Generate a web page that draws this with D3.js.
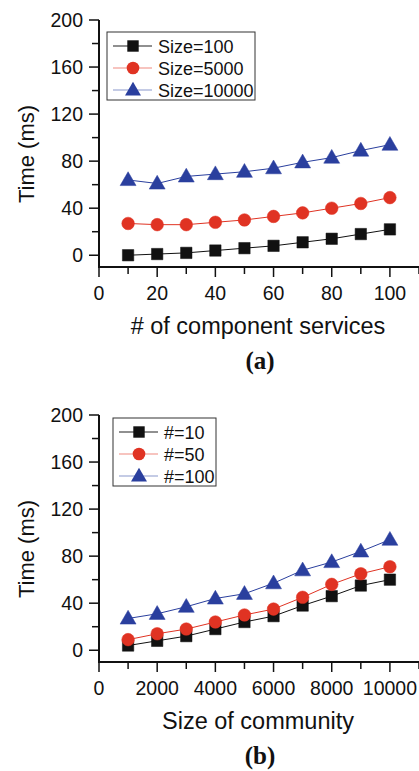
<!DOCTYPE html>
<meta charset="utf-8">
<style>
body { margin: 0; background: white; }
text { font-family: "Liberation Sans", Arial, sans-serif; fill: #111; }
</style>
<body>
<script src="https://d3js.org/d3.v7.min.js"></script>
<script>
var width = 419,
    height = 771;

// panel (a)
var servicesX = [10, 20, 30, 40, 50, 60, 70, 80, 90, 100];
var size100 = [0, 1, 2, 4, 6, 8, 11, 14, 18, 22];
var size5000 = [27, 26, 26, 28, 30, 33, 36, 40, 44, 49];
var size10000 = [64, 61, 67, 69, 71, 74, 79, 83, 89, 94];
var namesA = ["Size=100", "Size=5000", "Size=10000"];

// panel (b)
var communityX = [1000, 2000, 3000, 4000, 5000, 6000, 7000, 8000, 9000, 10000];
var num10 = [4, 8, 12, 18, 24, 29, 38, 46, 55, 60];
var num50 = [9, 14, 18, 24, 30, 35, 45, 56, 65, 71];
var num100 = [27, 31, 37, 44, 48, 57, 68, 75, 84, 94];
var namesB = ["#=10", "#=50", "#=100"];

var yTicks = [0, 40, 80, 120, 160, 200];
var colors = ["#111111", "#e03323", "#2a3f9e"];
var lineColors = ["#222222", "#f08a80", "#8a98cc"];
var shapes = [d3.symbolSquare, d3.symbolCircle, d3.symbolTriangle];
var sizes = [130, 125, 110];

var svg = d3.select("body").append("svg")
    .attr("width", width)
    .attr("height", height);

function panel(opts) {
  var g = svg.append("g");
  var x = d3.scaleLinear().domain(opts.xDomain).range([99, 419]);
  var y = d3.scaleLinear().domain([-10, 200]).range([opts.top + 247, opts.top]);

  // axes lines
  g.append("line")
    .attr("x1", x.range()[0]).attr("x2", x.range()[0])
    .attr("y1", y.range()[1]).attr("y2", y.range()[0])
    .style("stroke", "#111").style("stroke-width", 2);
  g.append("line")
    .attr("x1", x.range()[0] - 1).attr("x2", x.range()[1])
    .attr("y1", y.range()[0]).attr("y2", y.range()[0])
    .style("stroke", "#111").style("stroke-width", 2);

  d3.range(0, 201, 20).forEach(function(v) {
    var major = v % 40 == 0;
    g.append("line")
      .attr("x1", x.range()[0] - (major ? 10 : 7)).attr("x2", x.range()[0])
      .attr("y1", y(v)).attr("y2", y(v))
      .style("stroke", "#111").style("stroke-width", 1.5);
  });
  yTicks.forEach(function(v) {
    g.append("text")
      .attr("x", 83).attr("y", y(v) + 7)
      .attr("text-anchor", "end")
      .style("font-size", "19.5px")
      .text(v);
  });

  var step = opts.xTicks[1] - opts.xTicks[0];
  d3.range(0, opts.xDomain[1] + 1, step / 2).forEach(function(v, i) {
    var major = i % 2 == 0;
    g.append("line")
      .attr("x1", x(v)).attr("x2", x(v))
      .attr("y1", y.range()[0]).attr("y2", y.range()[0] + (major ? 10 : 7))
      .style("stroke", "#111").style("stroke-width", 1.5);
  });
  opts.xTicks.forEach(function(v) {
    g.append("text")
      .attr("x", x(v)).attr("y", y.range()[0] + 33)
      .attr("text-anchor", "middle")
      .style("font-size", "19.5px")
      .text(v);
  });

  g.append("text")
    .attr("transform", "translate(34," + (opts.top + 134) + ") rotate(-90)")
    .attr("text-anchor", "middle")
    .style("font-size", "22px")
    .text("Time (ms)");
  g.append("text")
    .attr("x", 258).attr("y", y.range()[0] + 67)
    .attr("text-anchor", "middle")
    .style("font-size", "23.5px")
    .text(opts.xLabel);
  g.append("text")
    .attr("x", 260).attr("y", y.range()[0] + 102)
    .attr("text-anchor", "middle")
    .style("font-family", "'Liberation Serif', 'Times New Roman', serif")
    .style("font-weight", "bold")
    .style("font-size", "25px")
    .text(opts.caption);

  var line = d3.line()
    .x(function(d) { return x(d[0]); })
    .y(function(d) { return y(d[1]); });

  opts.series.forEach(function(s, i) {
    var pts = opts.xs.map(function(v, j) { return [v, s[j]]; });
    g.append("path")
      .datum(pts)
      .attr("d", line)
      .style("fill", "none")
      .style("stroke", colors[i])
      .style("stroke-width", 1);
    g.selectAll(".m" + i)
      .data(pts)
      .enter().append("path")
        .attr("class", "m" + i)
        .attr("transform", function(d) { return "translate(" + x(d[0]) + "," + (y(d[1]) + (i == 2 ? 1 : 0)) + ")"; })
        .attr("d", d3.symbol().type(shapes[i]).size(sizes[i]))
        .style("fill", colors[i])
        .style("stroke", colors[i])
        .style("stroke-width", 0.5);
  });

  // legend
  var lg = g.append("g").attr("transform", "translate(" + opts.legend[0] + "," + opts.legend[1] + ")");
  lg.append("rect")
    .attr("width", opts.legend[2]).attr("height", 68)
    .style("fill", "white").style("stroke", "#333").style("stroke-width", 1);
  opts.names.forEach(function(n, i) {
    var ly = 14 + i * 22;
    lg.append("line")
      .attr("x1", 6).attr("x2", 45).attr("y1", ly).attr("y2", ly)
      .style("stroke", lineColors[i]).style("stroke-width", 1.2);
    lg.append("path")
      .attr("transform", "translate(26," + (ly + (i == 2 ? 1 : 0)) + ")")
      .attr("d", d3.symbol().type(shapes[i]).size(sizes[i]))
      .style("fill", colors[i]);
    lg.append("text")
      .attr("x", 51).attr("y", ly + 6.5)
      .style("font-size", "18px")
      .text(n);
  });
}

panel({
  top: 20,
  xDomain: [0, 110],
  xTicks: [0, 20, 40, 60, 80, 100],
  xs: servicesX,
  series: [size100, size5000, size10000],
  names: namesA,
  legend: [107, 32, 148],
  xLabel: "# of component services",
  caption: "(a)"
});

panel({
  top: 415,
  xDomain: [0, 11000],
  xTicks: [0, 2000, 4000, 6000, 8000, 10000],
  xs: communityX,
  series: [num10, num50, num100],
  names: namesB,
  legend: [113, 418, 103],
  xLabel: "Size of community",
  caption: "(b)"
});
</script>
</body>
</html>
